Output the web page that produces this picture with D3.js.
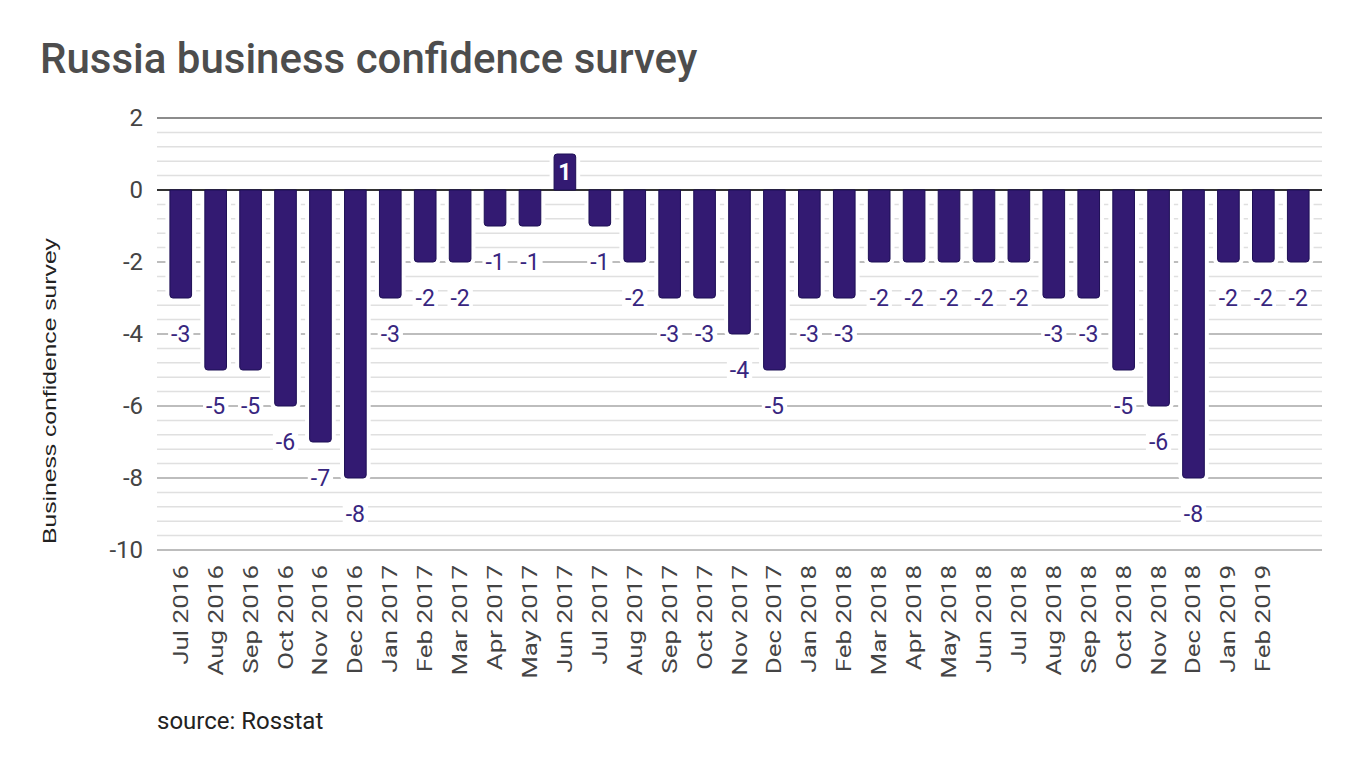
<!DOCTYPE html>
<html><head><meta charset="utf-8">
<script src="https://cdn.jsdelivr.net/npm/d3@7"></script>
<style>
html,body{margin:0;padding:0;background:#fff;}
svg{display:block;}
</style></head>
<body>
<svg id="chart" width="1360" height="774"></svg>
<script>
const months = ["Jul 2016","Aug 2016","Sep 2016","Oct 2016","Nov 2016","Dec 2016","Jan 2017","Feb 2017","Mar 2017","Apr 2017","May 2017","Jun 2017","Jul 2017","Aug 2017","Sep 2017","Oct 2017","Nov 2017","Dec 2017","Jan 2018","Feb 2018","Mar 2018","Apr 2018","May 2018","Jun 2018","Jul 2018","Aug 2018","Sep 2018","Oct 2018","Nov 2018","Dec 2018","Jan 2019","Feb 2019",""];
const values = [-3,-5,-5,-6,-7,-8,-3,-2,-2,-1,-1,1,-1,-2,-3,-3,-4,-5,-3,-3,-2,-2,-2,-2,-2,-3,-3,-5,-6,-8,-2,-2,-2];
const yTicks = [2,0,-2,-4,-6,-8,-10];
const title = "Russia business confidence survey";
const yTitle = "Business confidence survey";
const source = "source: Rosstat";

const svg = d3.select("#chart");
const M = {left:157, right:1322, top:118, bottom:550};
const barColor = "#331a72";
const labelColor = "#38267f";
const fmt = v => String(v);

const x = d3.scaleBand().domain(d3.range(values.length)).range([M.left, M.right]).paddingInner(0.38).paddingOuter(0.37);
const y = d3.scaleLinear().domain([-10, 2]).range([M.bottom, M.top]);

// title
svg.append("text").attr("x",40).attr("y",73).attr("font-family","Roboto").attr("font-weight",500)
  .attr("font-size",42).attr("fill","#4d4d4d").text(title);

// gridlines
const minor = d3.range(-10, 2.001, 0.4).map(v=>+v.toFixed(2)).filter(v=>Math.abs(v-Math.round(v))>0.01 || Math.round(v)%2!==0);
const g = svg.append("g");
g.selectAll("line.minor").data(minor)
  .join("line").attr("class","minor").attr("x1",M.left).attr("x2",M.right).attr("y1",d=>y(d)).attr("y2",d=>y(d))
  .attr("stroke","#e0e0e0").attr("stroke-width",1.5);
g.selectAll("line.major").data(yTicks.filter(v=>v!==0))
  .join("line").attr("class","major").attr("x1",M.left).attr("x2",M.right).attr("y1",d=>y(d)).attr("y2",d=>y(d))
  .attr("stroke",d=>d===2?"#8c8c8c":"#bdbdbd").attr("stroke-width",1.8);

// y axis
const yAxis = d3.axisLeft(y).tickValues(yTicks).tickSize(0).tickPadding(14).tickFormat(fmt);
const ya = svg.append("g").attr("transform",`translate(${M.left},0)`).call(yAxis);
ya.select(".domain").remove();
ya.selectAll("text").attr("font-family","Roboto").attr("font-size",24).attr("fill","#444");

// y title
svg.append("text").attr("transform",`translate(56,391) rotate(-90) scale(1.3,1)`)
  .attr("text-anchor","middle").attr("font-family","Liberation Sans, Arial").attr("font-size",19)
  .attr("fill","#222").text(yTitle);

// bars with white halo
const r = 3;
function barPath(i){
  const v = values[i], x0 = x(i), w = x.bandwidth();
  const y0 = y(0), y1 = y(v);
  if (v < 0) {
    return `M${x0},${y0}V${y1-r}Q${x0},${y1} ${x0+r},${y1}H${x0+w-r}Q${x0+w},${y1} ${x0+w},${y1-r}V${y0}Z`;
  } else {
    return `M${x0},${y0}V${y1+r}Q${x0},${y1} ${x0+r},${y1}H${x0+w-r}Q${x0+w},${y1} ${x0+w},${y1+r}V${y0}Z`;
  }
}
const halo = svg.append("g");
halo.selectAll("path").data(d3.range(values.length)).join("path")
  .attr("d",barPath).attr("fill","#fff").attr("stroke","#fff").attr("stroke-width",9);
// zero line
svg.append("line").attr("x1",M.left).attr("x2",M.right).attr("y1",y(0)).attr("y2",y(0))
  .attr("stroke","#333").attr("stroke-width",1.8);
const bars = svg.append("g");
bars.selectAll("path").data(d3.range(values.length)).join("path")
  .attr("d",barPath).attr("fill",barColor).attr("stroke","#1d0f55").attr("stroke-width",1);

// value labels
const lab = svg.append("g");
values.forEach((v,i)=>{
  const cx = x(i)+x.bandwidth()/2;
  if (v < 0) {
    const cy = y(v-1);
    const t = lab.append("text").attr("x",cx).attr("y",cy).attr("dy","0.36em").attr("text-anchor","middle")
      .attr("font-family","Roboto").attr("font-size",23).attr("fill",labelColor).text(fmt(v));
    const bb = t.node().getBBox();
    lab.insert("rect","text").attr("x",bb.x-3).attr("y",cy-10).attr("width",bb.width+6).attr("height",20).attr("fill","#fff");
  } else {
    lab.append("text").attr("x",cx).attr("y",(y(0)+y(v))/2).attr("dy","0.36em").attr("text-anchor","middle")
      .attr("font-family","Roboto").attr("font-weight",700).attr("font-size",23).attr("fill","#fff").text(fmt(v));
  }
});

// x axis
const sx = 1.3;
const xAxis = d3.axisBottom(x).tickSize(0).tickPadding(0).tickFormat(i=>months[i]);
const xa = svg.append("g").attr("transform",`translate(0,${M.bottom})`).call(xAxis);
xa.select(".domain").remove();
xa.selectAll("text").attr("font-family","Roboto").attr("font-size",20).attr("fill","#444")
  .attr("text-anchor","end").attr("transform",`rotate(-90) scale(${sx},1)`).attr("x",-15/sx).attr("y",0).attr("dy","0.35em");

// source
svg.append("text").attr("x",157).attr("y",729).attr("font-family","Roboto").attr("font-size",24)
  .attr("fill","#222").text(source);
</script>
</body></html>
